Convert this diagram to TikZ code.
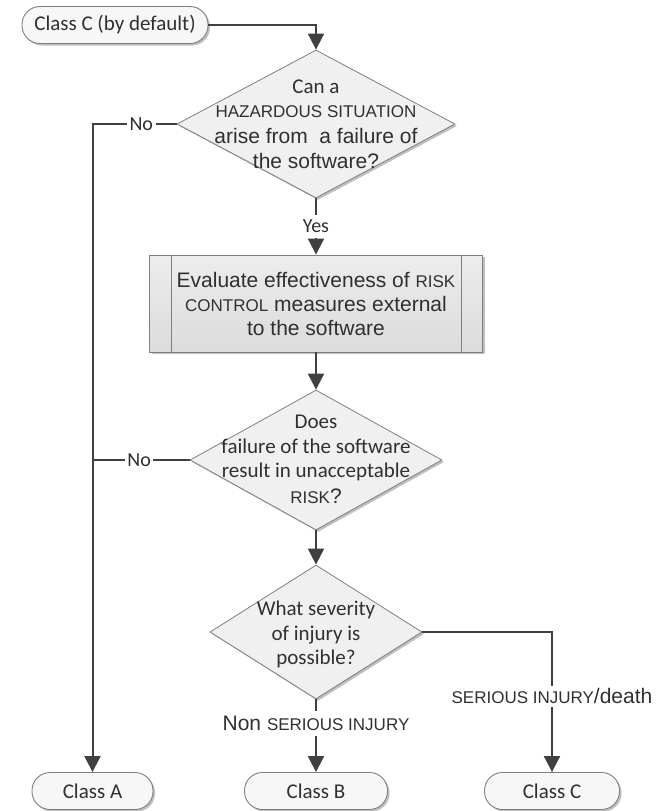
\documentclass[tikz,border=0pt]{standalone}
\usepackage{fontspec}
\setmainfont{Liberation Sans}
\newfontfamily\calibri{Carlito}
\usetikzlibrary{shapes.geometric,arrows.meta,shadows}
\definecolor{linec}{HTML}{404040}
\definecolor{edgec}{HTML}{7F7F7F}
\definecolor{txtc}{HTML}{303030}
\definecolor{diafill}{HTML}{F0F0F0}
\newcommand\smc[1]{{\fontsize{17}{20}\selectfont #1}}
\begin{document}
\begin{tikzpicture}[x=1pt,y=-1pt,
  flow/.style={draw=linec, line width=2pt, -{Triangle[width=16pt,length=16pt]}},
  plain/.style={draw=linec, line width=2pt},
  shad/.style={drop shadow={shadow xshift=2pt, shadow yshift=-2pt, opacity=0.25, fill=black}},
  dia/.style={diamond, draw=edgec, line width=0.8pt, fill=diafill, inner sep=0pt, shad},
  term/.style={rectangle, rounded corners=18pt, draw=edgec, line width=0.9pt, fill=white!97!black,
     minimum height=37pt, inner sep=0pt, text=txtc, font=\calibri\fontsize{21}{25}\selectfont, shad},
  procbox/.style={rectangle, draw=edgec, line width=0.9pt, top color=white!93!black, bottom color=white!86!black,
     minimum width=333pt, minimum height=97pt, inner sep=0pt, shad},
  txt/.style={text=txtc, inner sep=0pt, anchor=base, font=\fontsize{21}{25}\selectfont},
  ctxt/.style={txt, font=\calibri\fontsize{21}{25}\selectfont},
  lab/.style={fill=white, text=txtc, inner xsep=2.5pt, inner ysep=5pt},
  clab/.style={lab, font=\calibri\fontsize{20}{24}\selectfont},
]
\useasboundingbox (0,0) rectangle (664,811);

% start terminal
\node[term, minimum width=186pt] (cdef) at (115,25) {Class C (by default)};

% decision 1
\node[dia, minimum width=278pt, minimum height=148pt] (d1) at (316,124) {};
\node[ctxt] (d1a) at (316,93) {Can a};
\node[txt] (d1b) at (316,117) {\smc{HAZARDOUS SITUATION}};
\node[txt] (d1c) at (316,143) {arise from\ \ a failure of};
\node[txt] (d1d) at (316,168) {the software?};

% process
\node[procbox] (p) at (316,303.5) {};
\draw[edgec, line width=0.9pt] ([xshift=22pt]p.north west) -- ([xshift=22pt]p.south west);
\draw[edgec, line width=0.9pt] ([xshift=-22pt]p.north east) -- ([xshift=-22pt]p.south east);
\node[txt] (pa) at (316,287) {Evaluate effectiveness of \smc{RISK}};
\node[txt] (pb) at (316,311) {\smc{CONTROL} measures external};
\node[txt] (pc) at (316,335) {to the software};

% decision 2
\node[dia, minimum width=252pt, minimum height=140pt] (d2) at (316,460) {};
\node[ctxt] (d2a) at (316,428) {Does};
\node[ctxt] (d2b) at (316,453) {failure of the software};
\node[ctxt] (d2c) at (316,477) {result in unacceptable};
\node[txt] (d2d) at (316,503) {\smc{RISK}?};

% decision 3
\node[dia, minimum width=212pt, minimum height=134pt] (d3) at (316,632) {};
\node[ctxt] (d3a) at (316,615) {What severity};
\node[ctxt] (d3b) at (316,640) {of injury is};
\node[ctxt] (d3c) at (316,664) {possible?};

% end terminals
\node[term, minimum width=121pt] (ca) at (92.5,791) {Class A};
\node[term, minimum width=143pt] (cb) at (316,791) {Class B};
\node[term, minimum width=135pt] (cc) at (552,791) {Class C};

% connectors
\draw[flow] (cdef.east) -| (d1.north);
\draw[flow] (d1.south) -- node[clab] (yes) {Yes} (p.north);
\draw[flow] (p.south) -- (d2.north);
\draw[flow] (d2.south) -- (d3.north);
\draw[flow] (d1.west) -| node[clab, pos=0.21] (no1) {No} (ca.north);
\draw[plain] (d2.west) -- node[clab, pos=0.52] (no2) {No} (d2.west -| ca.north);
\draw[flow] (d3.south) -- node[lab, pos=0.33, font=\fontsize{21}{25}\selectfont] (nsi) {Non \smc{SERIOUS INJURY}} (cb.north);
\draw[flow] (d3.east) -| node[lab, pos=0.73, inner ysep=3pt, font=\fontsize{21}{25}\selectfont] (si) {\smc{SERIOUS INJURY}/death} (cc.north);
\end{tikzpicture}
\end{document}
